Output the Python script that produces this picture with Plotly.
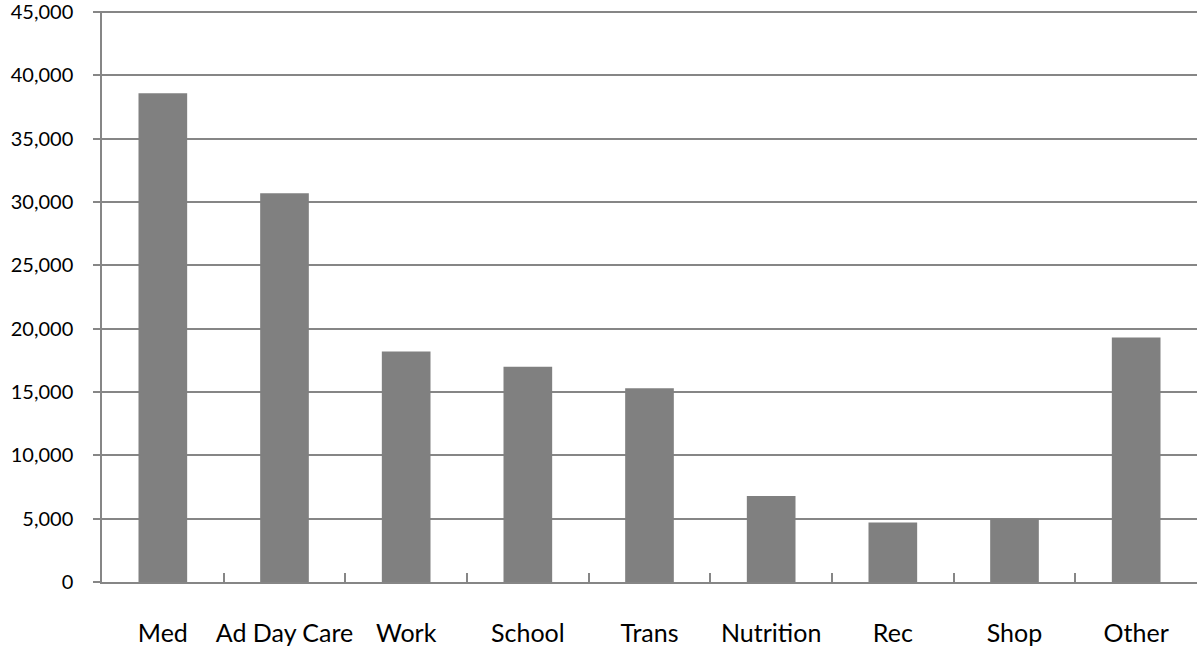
import plotly.graph_objects as go

categories = ["Med", "Ad Day Care", "Work", "School", "Trans", "Nutrition", "Rec", "Shop", "Other"]
values = [38600, 30700, 18200, 17000, 15300, 6800, 4700, 5000, 19300]
y_ticks = [0, 5000, 10000, 15000, 20000, 25000, 30000, 35000, 40000, 45000]
y_tick_labels = ["0", "5,000", "10,000", "15,000", "20,000", "25,000", "30,000", "35,000", "40,000", "45,000"]

fig = go.Figure(go.Bar(x=categories, y=values, marker=dict(color="#808080", line=dict(width=0))))

fig.update_layout(
    width=1200, height=650,
    margin=dict(l=102, r=3, t=11, b=68, autoexpand=False),
    paper_bgcolor="white", plot_bgcolor="white",
    bargap=0.6, showlegend=False,
    font=dict(family="Lato, Noto Sans, sans-serif", color="black"),
)
fig.update_xaxes(
    type="category", range=[-0.5, 8.5], tickangle=0, automargin=False,
    showline=True, linecolor="#868686", linewidth=1.5,
    ticks="inside", tickson="boundaries", ticklen=9, tickcolor="#868686", tickwidth=1.5,
    showgrid=False, tickfont=dict(size=25), ticklabelstandoff=28,
)
fig.update_yaxes(
    range=[0, 45090], tickvals=y_ticks, ticktext=y_tick_labels, automargin=False,
    showline=True, linecolor="#868686", linewidth=1.5,
    ticks="outside", ticklen=7, tickcolor="#868686", tickwidth=1.5,
    showgrid=True, gridcolor="#868686", gridwidth=1.5,
    zeroline=False, tickfont=dict(size=20), ticklabelstandoff=16,
    ticklabeloverflow="allow",
)
fig.write_html("out.html")
